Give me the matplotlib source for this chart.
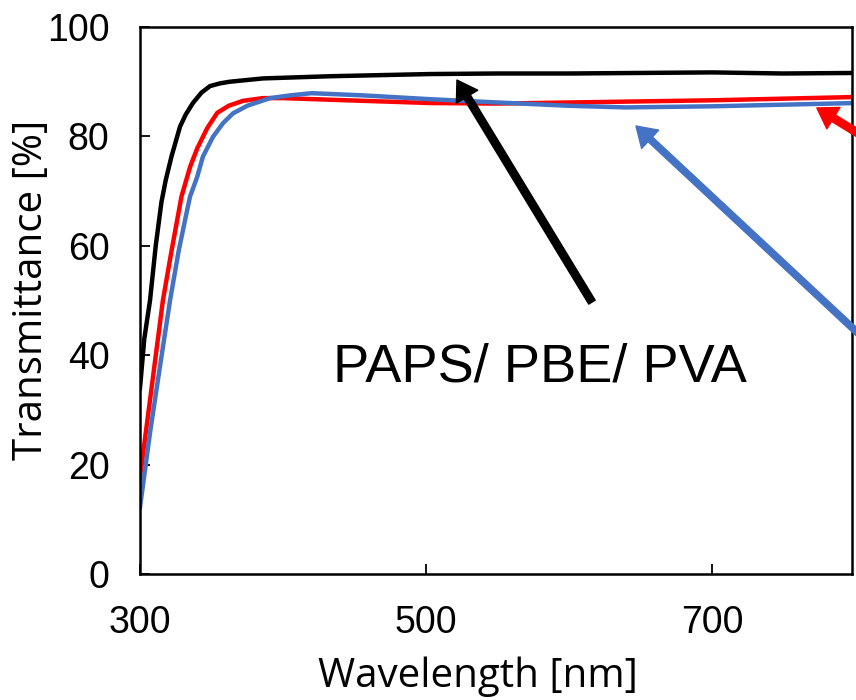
import matplotlib
matplotlib.use('Agg')
import matplotlib.pyplot as plt

# --- Transmittance spectra ---
wl_black = [300, 303, 307, 311, 315, 318, 322, 328, 332, 337, 343, 349, 356, 363, 386, 433, 503,
            550, 600, 650, 700, 750, 800]
tr_black = [34, 43, 50, 60, 68, 72, 76.3, 81.8, 84, 86.1, 88, 89.2, 89.7, 90.0, 90.6, 91.0, 91.4,
            91.5, 91.5, 91.6, 91.7, 91.5, 91.6]

wl_red = [300, 307, 316, 322, 326, 329, 335, 340, 347, 354, 362, 372, 386, 400, 433, 503,
          550, 600, 650, 700, 750, 800]
tr_red = [17.7, 31.8, 50, 59, 64.7, 69, 74.4, 77.8, 81.5, 84.3, 85.6, 86.5, 87.0, 87.0, 86.7, 86.1,
          86.0, 86.2, 86.4, 86.6, 86.9, 87.2]

wl_blue = [300, 307, 314, 321, 327, 331.5, 335, 340, 344, 351, 358, 365, 375, 391, 405, 420, 456, 503,
           550, 600, 640, 700, 750, 800]
tr_blue = [12.2, 25.8, 38, 50, 59, 64.7, 69, 72.6, 76.3, 79.9, 82.4, 84.2, 85.6, 87.0, 87.5, 87.9, 87.5, 86.8,
           86.2, 85.6, 85.3, 85.5, 85.8, 86.1]

BLUE = '#4472C4'
RED = '#FF0000'

plt.rcParams['font.family'] = ['Liberation Sans', 'DejaVu Sans']

fig = plt.figure(figsize=(8.56, 7), dpi=100)
ax = fig.add_axes([140 / 856, 1 - 574 / 700, 712 / 856, 547 / 700])

ax.plot(wl_black, tr_black, color='black', lw=3.2)
ax.plot(wl_red, tr_red, color=RED, lw=3.2)
ax.plot(wl_blue, tr_blue, color=BLUE, lw=3.2)

ax.set_xlim(300, 798)
ax.set_ylim(0, 100)
ax.set_xticks([300, 500, 700])
ax.set_yticks([0, 20, 40, 60, 80, 100])
ax.tick_params(direction='in', length=7, width=1.3, labelsize=27)
ax.tick_params(axis='x', pad=22)
ax.tick_params(axis='y', pad=22)
for sp in ax.spines.values():
    sp.set_linewidth(1.8)

ax.set_xlabel('Wavelength [nm]', fontsize=29, family='Open Sans', va='center')
ax.set_ylabel('Transmittance [%]', fontsize=29, family='Open Sans', va='center')
ax.xaxis.set_label_coords(0.474, -0.187)
ax.yaxis.set_label_coords(-0.152, 0.519)

# arrows pointing at the curves
ax.annotate('', xy=(521.7, 90.3), xytext=(616.1, 49.7),
            arrowprops=dict(arrowstyle='simple,head_width=0.9,head_length=0.7,tail_width=0.27',
                            mutation_scale=20, color='black', shrinkA=0, shrinkB=0),
            annotation_clip=False)
ax.annotate('', xy=(646.9, 81.9), xytext=(831.5, 36.9),
            arrowprops=dict(arrowstyle='simple,head_width=0.9,head_length=0.7,tail_width=0.23',
                            mutation_scale=20, color=BLUE, shrinkA=0, shrinkB=0),
            annotation_clip=False)
ax.annotate('', xy=(773.4, 85.2), xytext=(831.5, 75.9),
            arrowprops=dict(arrowstyle='simple,head_width=0.9,head_length=0.7,tail_width=0.27',
                            mutation_scale=20, color=RED, shrinkA=0, shrinkB=0),
            annotation_clip=False)

ax.text(435, 35.2, 'PAPS/ PBE/ PVA', fontsize=39, ha='left', va='baseline')

fig.savefig('out.png', dpi=100)
